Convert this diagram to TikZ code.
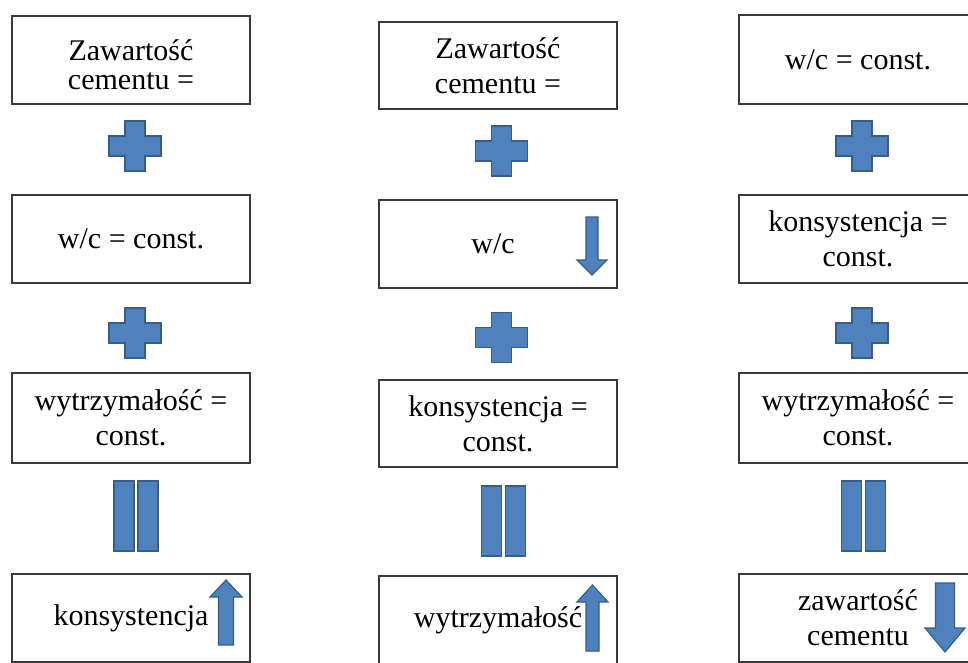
\documentclass[tikz,border=0pt]{standalone}
\usepackage{fontspec}
\setmainfont{Liberation Serif}
\definecolor{signfill}{HTML}{4F81BD}
\definecolor{signline}{HTML}{385D8A}
\definecolor{boxline}{HTML}{3A3A3A}

\tikzset{
  signstyle/.style = {fill=signfill, draw=signline, line width=1.2pt},
  pics/plussign/.style = {code={
    \filldraw[signstyle] (-10,-25) -- (10,-25) -- (10,-10) -- (26,-10) -- (26,10)
      -- (10,10) -- (10,25) -- (-10,25) -- (-10,10) -- (-26,10) -- (-26,-10)
      -- (-10,-10) -- cycle;}},
  pics/equalsign/.style = {code={
    \filldraw[signstyle] (-22,-35) rectangle (-2,35);
    \filldraw[signstyle] (2,-35) rectangle (22,35);}},
  % points down: length, shaft, head width, head length
  pics/blockarrow/.style n args = {4}{code={
    \filldraw[signstyle] ({-#2/2},{-#1/2}) -- ({#2/2},{-#1/2}) -- ({#2/2},{#1/2-#4})
      -- ({#3/2},{#1/2-#4}) -- (0,{#1/2}) -- ({-#3/2},{#1/2-#4})
      -- ({-#2/2},{#1/2-#4}) -- cycle;}},
}

\begin{document}
\begin{tikzpicture}[
                  x = 1pt,
                  y = -1pt,
   cell/.style = {draw=boxline, line width=1.2pt, fill=white,
                  minimum width=238pt, minimum height=88pt,
                  inner sep=0pt, align=center,
                  font=\fontsize{30}{35}\selectfont},
                   ]
\fill[white] (0,0) rectangle (968,662);
\clip (0,0) rectangle (968,662);

% first column
\node[cell] (zc1) at (131,60)  {\rule{0pt}{31pt}Zawartość\\[-6pt]cementu =};
\node[cell] (wc1) at (131,239) {w/c = const.};
\node[cell, minimum height=90pt] (wy1) at (131,418) {wytrzymałość =\\const.};
\node[cell] (ko1) at (131,618) {konsystencja};
\pic at (135,146) {plussign};
\pic at (135,333) {plussign};
\pic at (136,516) {equalsign};
\pic[rotate=180] at (226,612.5) {blockarrow={65}{15}{32}{17}};

% second column
\node[cell, minimum height=87pt] (zc2) at (498,65.5) {Zawartość\\cementu =};
\node[cell] (wc2) at (498,244) {w/c\hspace*{10pt}};
\node[cell, minimum height=87pt] (ks2) at (498,423.5) {konsystencja =\\const.};
\node[cell] (wy2) at (498,620) {wytrzymałość};
\pic at (501.5,151) {plussign};
\pic at (501.5,337.5) {plussign};
\pic at (503.5,521) {equalsign};
\pic at (592,246) {blockarrow={58}{12}{30}{15}};
\pic[rotate=180] at (592.5,618) {blockarrow={66}{13}{31}{17}};

% third column
\node[cell, minimum height=89pt] (wc3) at (858,59.5) {w/c = const.};
\node[cell] (ks3) at (858,239) {konsystencja =\\const.};
\node[cell, minimum height=90pt] (wy3) at (858,418) {wytrzymałość =\\const.};
\node[cell] (za3) at (858,618) {zawartość\\cementu};
\pic at (862,146) {plussign};
\pic at (862,333) {plussign};
\pic at (863.5,516) {equalsign};
\pic at (945,617.5) {blockarrow={69}{19}{40}{24}};
\end{tikzpicture}
\end{document}
